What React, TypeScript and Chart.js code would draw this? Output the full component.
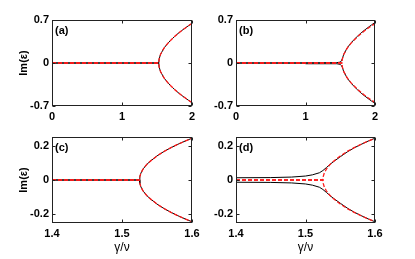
import React, { useEffect, useRef } from "react";
import { Chart, registerables } from "chart.js";

Chart.register(...registerables);

// ---- tick labels ----
const X_TICKS_AB = [0, 1, 2];
const X_TICKS_CD = [1.4, 1.5, 1.6];
const Y_TICKS_AB = [-0.7, 0, 0.7];
const Y_TICKS_CD = [-0.2, 0, 0.2];
const PANEL_LABELS = ["(a)", "(b)", "(c)", "(d)"];
const Y_TITLE = "Im(ε)";
const X_TITLE = "γ/ν";

// ---- panel (a) ----
const A_X = [0, 1.525, 1.53, 1.55, 1.6, 1.65, 1.7, 1.75, 1.8, 1.85, 1.9, 1.95, 2.0];
const A_UP = [0, 0, 0.063, 0.14, 0.243, 0.315, 0.375, 0.43, 0.48, 0.525, 0.567, 0.607, 0.645];
const A_DN = [0, 0, -0.063, -0.14, -0.243, -0.315, -0.375, -0.43, -0.48, -0.525, -0.567, -0.607, -0.645];

// ---- panel (b) ----
const B_RED_X = [0, 1.525, 1.53, 1.55, 1.6, 1.65, 1.7, 1.75, 1.8, 1.85, 1.9, 1.95, 2.0];
const B_RED_UP = [0, 0, 0.063, 0.14, 0.243, 0.315, 0.375, 0.43, 0.48, 0.525, 0.567, 0.607, 0.64];
const B_RED_DN = [0, 0, -0.063, -0.14, -0.243, -0.315, -0.375, -0.43, -0.48, -0.525, -0.567, -0.607, -0.64];
const B_BLK_X = [0, 1.0, 1.0, 1.45, 1.5, 1.515, 1.53, 1.55, 1.6, 1.65, 1.7, 1.75, 1.8, 1.85, 1.9, 1.95, 2.0];
const B_BLK_UP = [0, 0, 0.004, 0.006, 0.014, 0.035, 0.07, 0.14, 0.245, 0.32, 0.382, 0.438, 0.49, 0.535, 0.578, 0.62, 0.66];
const B_BLK_DN = [0, 0, -0.012, -0.012, -0.022, -0.04, -0.07, -0.14, -0.245, -0.32, -0.382, -0.438, -0.49, -0.535, -0.578, -0.62, -0.655];

// ---- panel (c) ----
const C_X = [1.4, 1.525, 1.5255, 1.527, 1.53, 1.535, 1.54, 1.55, 1.56, 1.57, 1.58, 1.59, 1.6];
const C_UP = [0, 0, 0.02, 0.04, 0.063, 0.089, 0.108, 0.14, 0.166, 0.188, 0.208, 0.226, 0.243];
const C_DN = [0, 0, -0.02, -0.04, -0.063, -0.089, -0.108, -0.14, -0.166, -0.188, -0.208, -0.226, -0.243];

// ---- panel (d) ----
const D_RED_X = [1.4, 1.525, 1.5255, 1.527, 1.53, 1.535, 1.54, 1.55, 1.56, 1.57, 1.58, 1.59, 1.6];
const D_RED_UP = [0, 0, 0.02, 0.04, 0.063, 0.089, 0.108, 0.14, 0.166, 0.188, 0.208, 0.226, 0.243];
const D_RED_DN = [0, 0, -0.02, -0.04, -0.063, -0.089, -0.108, -0.14, -0.166, -0.188, -0.208, -0.226, -0.243];
const D_BLK_X = [1.4, 1.45, 1.48, 1.5, 1.51, 1.52, 1.525, 1.53, 1.535, 1.54, 1.55, 1.56, 1.57, 1.58, 1.59, 1.6];
const D_BLK_UP = [0.013, 0.014, 0.017, 0.023, 0.03, 0.042, 0.055, 0.072, 0.09, 0.106, 0.135, 0.163, 0.187, 0.207, 0.226, 0.243];
const D_BLK_DN = [-0.013, -0.014, -0.017, -0.023, -0.03, -0.042, -0.055, -0.072, -0.09, -0.106, -0.135, -0.163, -0.187, -0.207, -0.226, -0.243];

const FONT = "'Liberation Sans', Arial, Helvetica, sans-serif";

type Series = { x: number[]; y: number[]; red: boolean };
type Panel = {
  label: string;
  left: number;
  top: number;
  width: number;
  height: number;
  plot: { l: number; t: number; r: number; b: number };
  xMin: number;
  xMax: number;
  xTicks: number[];
  yMin: number;
  yMax: number;
  yTicks: number[];
  yTitle: boolean;
  xTitle: boolean;
  series: Series[];
};

const PANELS: Panel[] = [
  {
    label: PANEL_LABELS[0], left: 0, top: 0, width: 207, height: 125,
    plot: { l: 52, t: 20, r: 192, b: 106 },
    xMin: 0, xMax: 2, xTicks: X_TICKS_AB, yMin: -0.7, yMax: 0.7, yTicks: Y_TICKS_AB,
    yTitle: true, xTitle: false,
    series: [
      { x: A_X, y: A_UP, red: true }, { x: A_X, y: A_DN, red: true },
      { x: A_X, y: A_UP, red: false }, { x: A_X, y: A_DN, red: false },
    ],
  },
  {
    label: PANEL_LABELS[1], left: 207, top: 0, width: 208, height: 125,
    plot: { l: 29, t: 20, r: 168, b: 106 },
    xMin: 0, xMax: 2, xTicks: X_TICKS_AB, yMin: -0.7, yMax: 0.7, yTicks: Y_TICKS_AB,
    yTitle: false, xTitle: false,
    series: [
      { x: B_RED_X, y: B_RED_UP, red: true }, { x: B_RED_X, y: B_RED_DN, red: true },
      { x: B_BLK_X, y: B_BLK_UP, red: false }, { x: B_BLK_X, y: B_BLK_DN, red: false },
    ],
  },
  {
    label: PANEL_LABELS[2], left: 0, top: 125, width: 207, height: 134,
    plot: { l: 52, t: 12, r: 192, b: 98 },
    xMin: 1.4, xMax: 1.6, xTicks: X_TICKS_CD, yMin: -0.25, yMax: 0.25, yTicks: Y_TICKS_CD,
    yTitle: true, xTitle: true,
    series: [
      { x: C_X, y: C_UP, red: true }, { x: C_X, y: C_DN, red: true },
      { x: C_X, y: C_UP, red: false }, { x: C_X, y: C_DN, red: false },
    ],
  },
  {
    label: PANEL_LABELS[3], left: 207, top: 125, width: 208, height: 134,
    plot: { l: 29, t: 12, r: 168, b: 98 },
    xMin: 1.4, xMax: 1.6, xTicks: X_TICKS_CD, yMin: -0.25, yMax: 0.25, yTicks: Y_TICKS_CD,
    yTitle: false, xTitle: true,
    series: [
      { x: D_RED_X, y: D_RED_UP, red: true }, { x: D_RED_X, y: D_RED_DN, red: true },
      { x: D_BLK_X, y: D_BLK_UP, red: false }, { x: D_BLK_X, y: D_BLK_DN, red: false },
    ],
  },
];

const framePlugin = {
  id: "frame",
  afterDatasetsDraw(chart: any, _args: any, opts: any) {
    const { ctx, chartArea } = chart;
    const l = Math.round(chartArea.left) + 0.5;
    const t = Math.round(chartArea.top) + 0.5;
    const r = Math.round(chartArea.right) - 0.5;
    const b = Math.round(chartArea.bottom) - 0.5;
    ctx.save();
    ctx.strokeStyle = "#222";
    ctx.lineWidth = 1;
    ctx.strokeRect(l, t, r - l, b - t);
    const tl = 3;
    ctx.beginPath();
    const xs = chart.scales.x;
    for (const tk of xs.ticks) {
      const px = Math.round(xs.getPixelForValue(tk.value)) + 0.5;
      ctx.moveTo(px, b); ctx.lineTo(px, b - tl);
      ctx.moveTo(px, t); ctx.lineTo(px, t + tl);
    }
    const ys = chart.scales.y;
    for (const tk of ys.ticks) {
      const py = Math.round(ys.getPixelForValue(tk.value)) + 0.5;
      ctx.moveTo(l, py); ctx.lineTo(l + tl, py);
      ctx.moveTo(r, py); ctx.lineTo(r - tl, py);
    }
    ctx.stroke();
    ctx.fillStyle = "#000";
    ctx.font = `bold 11px ${FONT}`;
    ctx.textBaseline = "alphabetic";
    ctx.textAlign = "left";
    ctx.fillText(opts.label, chartArea.left + 3, chartArea.top + 14);
    ctx.restore();
  },
};

function PanelChart({ p }: { p: Panel }) {
  const ref = useRef<HTMLCanvasElement | null>(null);
  useEffect(() => {
    if (!ref.current) return;
    const chart = new Chart(ref.current, {
      type: "scatter",
      data: {
        datasets: p.series.map((s) => ({
          data: s.x.map((x, i) => ({ x, y: s.y[i] })),
          showLine: true,
          borderColor: s.red ? "#ff1a1a" : "#000000",
          borderWidth: s.red ? 1.3 : 1,
          borderDash: s.red ? [4, 2] : [],
          pointRadius: 0,
          fill: false,
          tension: 0,
        })),
      },
      options: {
        responsive: false,
        animation: false,
        devicePixelRatio: 1,
        layout: { padding: { left: 0, top: p.plot.t, right: p.width - p.plot.r, bottom: 0 } },
        plugins: {
          legend: { display: false },
          tooltip: { enabled: false },
          frame: { label: p.label },
        } as any,
        scales: {
          x: {
            type: "linear",
            min: p.xMin,
            max: p.xMax,
            afterBuildTicks: (s: any) => { s.ticks = p.xTicks.map((v) => ({ value: v })); },
            afterFit: (s: any) => { s.height = p.height - p.plot.b; },
            grid: { display: false, drawTicks: false },
            border: { display: false },
            ticks: { padding: 4, color: "#000", maxRotation: 0, autoSkip: false, font: { family: FONT, size: 11, weight: "bold" } },
            title: { display: p.xTitle, text: X_TITLE, color: "#000", font: { family: FONT, size: 12 }, padding: { top: 0, bottom: 4 } },
          },
          y: {
            type: "linear",
            min: p.yMin,
            max: p.yMax,
            afterBuildTicks: (s: any) => { s.ticks = p.yTicks.map((v) => ({ value: v })); },
            afterFit: (s: any) => { s.width = p.plot.l; },
            grid: { display: false, drawTicks: false },
            border: { display: false },
            ticks: { padding: 3, color: "#000", font: { family: FONT, size: 11, weight: "bold" } },
            title: { display: p.yTitle, text: Y_TITLE, color: "#000", font: { family: FONT, size: 11, weight: "bold" }, padding: { top: 17, bottom: 0 } },
          },
        },
      } as any,
      plugins: [framePlugin],
    });
    return () => chart.destroy();
  }, [p]);
  return (
    <canvas
      ref={ref}
      width={p.width}
      height={p.height}
      style={{ position: "absolute", left: p.left, top: p.top, width: p.width, height: p.height }}
    />
  );
}

export default function App() {
  return (
    <div style={{ position: "fixed", left: 0, top: 0, width: 415, height: 259, background: "#fff", overflow: "hidden" }}>
      {PANELS.map((p) => (
        <PanelChart key={p.label} p={p} />
      ))}
    </div>
  );
}
